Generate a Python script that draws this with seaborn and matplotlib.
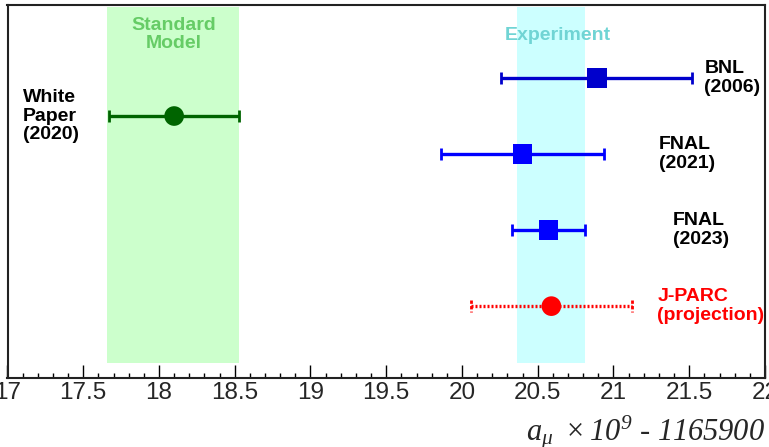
import numpy as np
import pandas as pd
import matplotlib
matplotlib.use("Agg")
import matplotlib.pyplot as plt
import seaborn as sns
from matplotlib.ticker import MultipleLocator

sns.set_theme(style="white")
plt.rcParams['font.family'] = ['Liberation Sans', 'DejaVu Sans']
plt.rcParams['mathtext.fontset'] = 'custom'
plt.rcParams['mathtext.rm'] = 'Liberation Serif:italic'
plt.rcParams['mathtext.it'] = 'Liberation Serif:italic'

# ---- data ----
names = ["White\nPaper\n(2020)", "BNL\n(2006)", "FNAL\n(2021)", "FNAL\n(2023)", "J-PARC\n(projection)"]
values = [18.10, 20.89, 20.40, 20.57, 20.59]
err_lo = [0.43, 0.63, 0.54, 0.24, 0.53]
err_hi = [0.43, 0.63, 0.54, 0.24, 0.53]
rows = [1, 0, 2, 4, 6]
kinds = ["theory", "exp", "exp", "exp", "proj"]
colors = ["#006400", "#0000cc", "#0000ff", "#0000ff", "#ff0000"]
markers = ["o", "s", "s", "s", "o"]
label_x = [17.10, 21.60, 21.30, 21.39, 21.29]
label_colors = ["black", "black", "black", "black", "#ff0000"]

sm_band = (17.66, 18.53)
exp_band = (20.36, 20.81)
xticks = [17, 17.5, 18, 18.5, 19, 19.5, 20, 20.5, 21, 21.5, 22]
xtick_labels = ["17", "17.5", "18", "18.5", "19", "19.5", "20", "20.5", "21", "21.5", "22"]

df = pd.DataFrame({"name": names, "value": values, "lo": err_lo, "hi": err_hi,
                   "row": rows, "kind": kinds})

fig = plt.figure(figsize=(7.69, 4.47), dpi=100)
ax = fig.add_axes([7.5 / 769, (447 - 378) / 447, (765 - 7.5) / 769, (378 - 5) / 447])

# bands
ax.axvspan(*sm_band, ymin=0.04, ymax=0.995, color="#ccffcc", lw=0, zorder=0)
ax.axvspan(*exp_band, ymin=0.04, ymax=0.995, color="#ccffff", lw=0, zorder=0)
ax.text(np.mean(sm_band), -1.6, "Standard\nModel", color="#66cc66", fontsize=14,
        fontweight="bold", ha="center", va="top", linespacing=1.05)
ax.text(np.mean(exp_band) + 0.05, -1.13, "Experiment", color="#70d4d4", fontsize=14,
        fontweight="bold", ha="center", va="center")

# error bars
for i, r in df.iterrows():
    c = colors[i]
    if r["kind"] == "proj":
        eb = ax.errorbar(r["value"], r["row"], xerr=[[r["lo"]], [r["hi"]]], fmt="none",
                         ecolor=c, elinewidth=2.4, capsize=0, zorder=2)
        eb[2][0].set_linestyle((0, (0.6, 0.6)))
        for xc in (r["value"] - r["lo"], r["value"] + r["hi"]):
            ax.plot([xc, xc], [r["row"] - 0.15, r["row"] + 0.15], color=c, lw=2,
                    ls=(0, (1.2, 0.8)), zorder=2)
    else:
        ax.errorbar(r["value"], r["row"], xerr=[[r["lo"]], [r["hi"]]], fmt="none",
                    ecolor=c, elinewidth=2.4, capsize=4.5, capthick=2, zorder=2)

# markers via seaborn
palette = {n: colors[i] for i, n in enumerate(names)}
mk = {n: markers[i] for i, n in enumerate(names)}
sns.scatterplot(data=df, x="value", y="row", hue="name", style="name", palette=palette,
                markers=mk, s=200, edgecolor="none", legend=False, ax=ax, zorder=3)

# labels
for i, r in df.iterrows():
    ax.text(label_x[i], r["row"], r["name"], color=label_colors[i], fontsize=14,
            fontweight="bold", ha="left", va="center", linespacing=1.15)

ax.set_xlim(17, 22)
ax.set_ylim(7.89, -1.92)
ax.set_yticks([])
ax.set_xticks(xticks)
ax.set_xticklabels(xtick_labels, fontfamily=['Liberation Sans Narrow', 'Liberation Sans'], fontsize=17.5)
ax.xaxis.set_minor_locator(MultipleLocator(0.1))
ax.tick_params(axis="x", which="major", direction="in", length=9.4, width=1, pad=3,
               bottom=True, color="black")
ax.tick_params(axis="x", which="minor", direction="in", length=3.6, width=1,
               bottom=True, color="black")
ax.set_xlabel("")
ax.set_ylabel("")
for s in ax.spines.values():
    s.set_color("#222222")
    s.set_linewidth(1.5)
    s.set_visible(True)

fig.text(765 / 769, (447 - 440) / 447, r"$a_{\mu}\ \times 10^{9}$ - 1165900",
         fontsize=22, fontfamily="Liberation Serif", style="italic", ha="right", va="baseline")

fig.savefig("out.png", dpi=100)
